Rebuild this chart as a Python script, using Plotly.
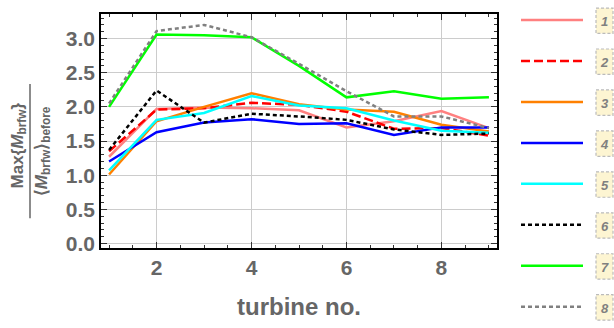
import plotly.graph_objects as go

turbine = [1, 2, 3, 4, 5, 6, 7, 8, 9]
labels = ["1", "2", "3", "4", "5", "6", "7", "8"]
s1 = [1.27, 1.97, 1.99, 1.98, 1.95, 1.70, 1.79, 1.94, 1.69]
s2 = [1.35, 1.96, 1.98, 2.06, 2.03, 1.93, 1.68, 1.69, 1.58]
s3 = [1.01, 1.79, 2.00, 2.20, 2.04, 1.96, 1.93, 1.74, 1.64]
s4 = [1.20, 1.63, 1.77, 1.82, 1.75, 1.76, 1.59, 1.70, 1.70]
s5 = [1.07, 1.81, 1.91, 2.16, 2.02, 1.98, 1.80, 1.65, 1.62]
s6 = [1.37, 2.24, 1.77, 1.90, 1.86, 1.81, 1.67, 1.59, 1.61]
s7 = [2.00, 3.06, 3.05, 3.02, 2.60, 2.14, 2.23, 2.12, 2.14]
s8 = [2.05, 3.11, 3.20, 3.02, 2.63, 2.23, 1.86, 1.86, 1.69]
series = [s1, s2, s3, s4, s5, s6, s7, s8]

colors = ["#FF8080", "#FF0000", "#FF8000", "#0000FF", "#00FFFF", "#000000", "#00FF00", "#808080"]
dashes = ["solid", "9px,4px", "solid", "solid", "solid", "4px,3px", "solid", "4px,3px"]

W, H = 614, 328
L, R, T, B = 101, 117, 13, 71
pw, ph = W - L - R, H - T - B

def px(x):
    return (x - L) / pw

def py(y):
    return (H - B - y) / ph

fig = go.Figure()
for lab, s, c, d in zip(labels, series, colors, dashes):
    fig.add_trace(go.Scatter(x=turbine, y=s, mode="lines", name=lab,
                             line=dict(color=c, width=2.5, dash=d), showlegend=False))

tickfont = dict(family="Liberation Sans", size=21, color="#666666", weight="bold")
axcommon = dict(showline=True, linecolor="black", linewidth=1.5, mirror="ticks",
                ticks="inside", ticklen=6, tickwidth=1, tickcolor="#333333",
                showgrid=True, gridcolor="#CCCCCC", gridwidth=1, zeroline=False,
                tickfont=tickfont)
fig.update_xaxes(range=[0.83, 9.17], tick0=0, dtick=2,
                 minor=dict(dtick=0.5, tick0=0, ticks="inside", ticklen=3.5, tickcolor="#333333", showgrid=False),
                 title=dict(text="turbine no.", font=dict(family="Liberation Sans", size=24, color="#666666", weight="bold"), standoff=20),
                 **axcommon)
fig.update_yaxes(range=[-0.066, 3.36], tick0=0, dtick=0.5, tickformat=".1f",
                 minor=dict(dtick=0.1, tick0=0, ticks="inside", ticklen=3.5, tickcolor="#333333", showgrid=False),
                 **axcommon)

fracfont = dict(family="Liberation Sans", size=17, color="#666666", weight="bold")
fig.add_annotation(xref="paper", yref="paper", x=px(19), y=py(150), textangle=-90,
                   text="Max{<i>M</i><sub>brfw</sub>}", showarrow=False, font=fracfont,
                   xanchor="center", yanchor="middle")
fig.add_annotation(xref="paper", yref="paper", x=px(43), y=py(156), textangle=-90,
                   text="⟨<i>M</i><sub>brfw</sub>⟩<sub>before</sub>", showarrow=False, font=fracfont,
                   xanchor="center", yanchor="middle")
fig.add_shape(type="line", xref="paper", yref="paper", x0=px(30), x1=px(30),
              y0=py(86), y1=py(226), line=dict(color="#666666", width=1.5))

# manual legend
for i, (lab, c, d) in enumerate(zip(labels, colors, dashes)):
    yc = 19.3 + i * 42.7
    fig.add_shape(type="line", xref="paper", yref="paper", x0=px(521), x1=px(583),
                  y0=py(yc), y1=py(yc), line=dict(color=c, width=2.5, dash=d))
    fig.add_shape(type="rect", xref="paper", yref="paper", x0=px(596), x1=px(613),
                  y0=py(yc - 12.5), y1=py(yc + 14), fillcolor="#FDF5D2",
                  line=dict(color="#BBBBBB", width=1.2, dash="3px,2px"))
    fig.add_annotation(xref="paper", yref="paper", x=px(604.5), y=py(yc + 1.5), text="<i>" + lab + "</i>",
                       showarrow=False, xanchor="center", yanchor="middle",
                       font=dict(family="Liberation Sans", size=13, color="#808080", weight="bold"))

fig.update_layout(width=W, height=H, margin=dict(l=L, r=R, t=T, b=B),
                  plot_bgcolor="white", paper_bgcolor="white")
fig.write_html("out.html")
